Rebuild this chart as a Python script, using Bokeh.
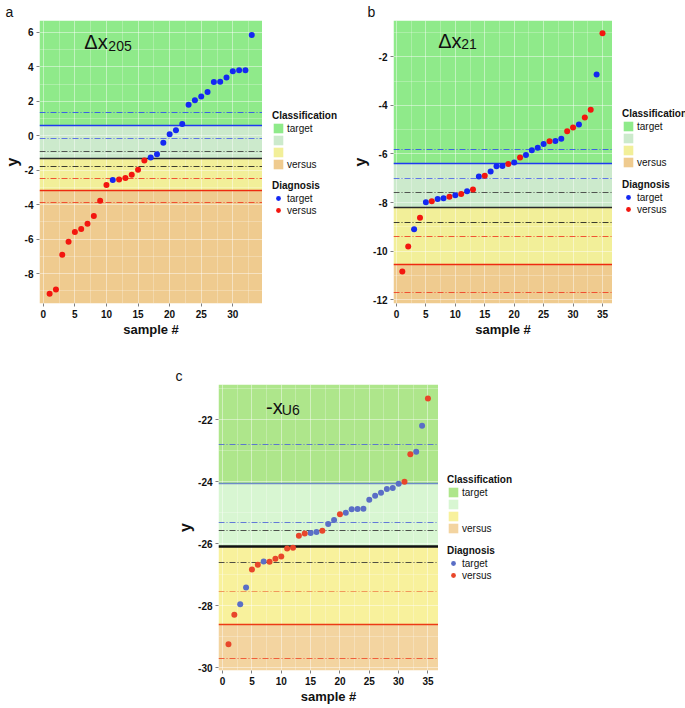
import numpy as np
from bokeh.plotting import figure
from bokeh.models import Legend, LegendItem, Label, Range1d, FixedTicker, Spacer
from bokeh.layouts import row, column
from bokeh.embed import file_html
from bokeh.resources import INLINE

FONT = "Liberation Sans"

# ---------------- data ----------------
# panel a : delta x_205
a_y = [-9.17, -8.92, -6.90, -6.15, -5.58, -5.41, -5.10, -4.66, -3.77, -2.85,
       -2.56, -2.54, -2.45, -2.26, -1.97, -1.43, -1.26, -1.07, -0.41, 0.09,
       0.32, 0.68, 1.80, 2.06, 2.28, 2.54, 3.12, 3.14, 3.39, 3.75,
       3.81, 3.81, 5.85]
a_diag = ["versus", "versus", "versus", "versus", "versus", "versus", "versus", "versus", "versus", "versus",
          "target", "versus", "versus", "versus", "versus", "versus", "target", "target", "target", "target",
          "target", "target", "target", "target", "target", "target", "target", "target", "target", "target",
          "target", "target", "target"]
a_solid = [0.59, -1.33, -3.18]
a_dash = [1.37, -0.18, -0.89, -1.80, -2.49, -3.87]
a_xlim = [-0.6, 34.7]
a_ylim = [-9.73, 6.69]
a_xticks = [0, 5, 10, 15, 20, 25, 30]
a_yticks = [-8, -6, -4, -2, 0, 2, 4, 6]

# panel b : delta x_21
b_y = [-10.84, -9.81, -9.10, -8.63, -7.99, -7.95, -7.85, -7.82, -7.76, -7.70,
       -7.65, -7.54, -7.46, -6.93, -6.90, -6.72, -6.50, -6.49, -6.41, -6.35,
       -6.14, -6.04, -5.85, -5.74, -5.59, -5.48, -5.46, -5.37, -5.06, -4.91,
       -4.79, -4.50, -4.18, -2.73, -1.03]
b_diag = ["versus", "versus", "target", "versus", "target", "versus", "target", "target", "versus", "target",
          "versus", "target", "versus", "target", "versus", "target", "target", "target", "versus", "target",
          "versus", "target", "target", "target", "target", "versus", "target", "target", "versus", "versus",
          "target", "versus", "versus", "target", "versus"]
b_solid = [-6.41, -8.22, -10.54]
b_dash = [-5.80, -7.02, -7.58, -8.83, -9.41, -11.69]
b_xlim = [-0.5, 36.7]
b_ylim = [-12.16, -0.50]
b_xticks = [0, 5, 10, 15, 20, 25, 30, 35]
b_yticks = [-12, -10, -8, -6, -4, -2]

# panel c : -x_U6
c_y = [-29.24, -28.29, -27.95, -27.41, -26.83, -26.68, -26.57, -26.58, -26.48, -26.41,
       -26.15, -26.13, -25.74, -25.67, -25.65, -25.62, -25.58, -25.36, -25.23, -25.05,
       -25.00, -24.89, -24.88, -24.87, -24.58, -24.45, -24.35, -24.23, -24.20, -24.06,
       -24.00, -23.11, -23.03, -22.19, -21.31]
c_diag = ["versus", "versus", "target", "target", "versus", "versus", "target", "versus", "versus", "versus",
          "versus", "versus", "versus", "versus", "target", "target", "versus", "target", "target", "versus",
          "target", "target", "target", "target", "target", "target", "target", "target", "target", "target",
          "versus", "versus", "target", "target", "versus"]
c_solid = [-24.05, -26.09, -28.62]
c_dash = [-22.80, -25.31, -25.58, -26.60, -27.55, -29.69]
c_xlim = [-0.7, 36.8]
c_ylim = [-30.09, -20.86]
c_xticks = [0, 5, 10, 15, 20, 25, 30, 35]
c_yticks = [-30, -28, -26, -24, -22]

classes = ["target", "", "", "versus"]
diagnoses = ["target", "versus"]

STYLE_AB = dict(
    bands=["#8FEA8A", "#CCEACC", "#F2EF99", "#EFCB8F"],
    pts={"target": "#1428F2", "versus": "#F3160F"},
    solid=["#1F3BF0", "#2A2A2A", "#EE2A10"],
    solid_w=[1.6, 1.6, 1.6],
    dash=["#2D4BF0", "#4A62E8", "#3A3A3A", "#1A1A1A", "#F03A20", "#F03A20"],
)
STYLE_C = dict(
    bands=["#AEE68B", "#D8F6D2", "#F8F19C", "#F3D4A0"],
    pts={"target": "#5A6EC6", "versus": "#E8462A"},
    solid=["#6C8BC8", "#111111", "#EC3A14"],
    solid_w=[1.6, 2.6, 1.6],
    dash=["#4E63D8", "#4E63D8", "#333333", "#333333", "#F08A50", "#EE4A28"],
)


def make_panel(tag, ys, diag, solid, dash, xlim, ylim, xt, yt, st,
               sym, sub, sym_xy, sub_xy, geom):
    ml, mt, fw, fh, mb = geom
    p = figure(width=ml + fw, height=mt + fh + mb,
               x_range=Range1d(*xlim), y_range=Range1d(*ylim),
               output_backend="svg", toolbar_location=None,
               min_border_left=ml, min_border_top=mt,
               min_border_right=0, min_border_bottom=mb,
               outline_line_color=None, background_fill_color="white",
               title=tag[0])
    p.title.text_font = FONT
    p.title.text_font_size = "14px"
    p.title.text_font_style = "normal"
    p.title.text_color = "#111111"
    p.title.align = "left"
    p.title.offset = tag[1]
    p.title.standoff = 2

    # classification bands
    tops = [ylim[1], solid[0], solid[1], solid[2]]
    bots = [solid[0], solid[1], solid[2], ylim[0]]
    for i in range(4):
        p.quad(left=[xlim[0]], right=[xlim[1]], bottom=[bots[i]], top=[tops[i]],
               fill_color=st["bands"][i], line_color=None, level="image")

    # grid
    xminor = [t + 2.5 for t in xt]
    ystep = yt[1] - yt[0]
    yminor = [t + ystep / 2 for t in yt] + [yt[0] - ystep / 2]
    p.xaxis.ticker = FixedTicker(ticks=xt, minor_ticks=xminor)
    p.yaxis.ticker = FixedTicker(ticks=yt, minor_ticks=yminor)
    p.xaxis.major_label_overrides = {t: str(t) for t in xt}
    p.yaxis.major_label_overrides = {t: str(t) for t in yt}
    for g in (p.xgrid, p.ygrid):
        g.grid_line_color = "white"
        g.grid_line_alpha = 0.45
        g.grid_line_width = 1
        g.minor_grid_line_color = "white"
        g.minor_grid_line_alpha = 0.25

    # threshold lines
    p.hspan(y=dash, line_color=st["dash"], line_width=1.2, line_alpha=0.85,
            line_dash="6 2 1 2")
    for i in range(3):
        p.hspan(y=[solid[i]], line_color=st["solid"][i], line_width=st["solid_w"][i])

    # samples
    xs = np.arange(1, len(ys) + 1)
    yv = np.array(ys)
    dv = np.array(diag)
    for d in diagnoses:
        m = dv == d
        p.scatter(xs[m], yv[m], size=6, fill_color=st["pts"][d], line_color=None)

    # axes
    for ax in (p.xaxis[0], p.yaxis[0]):
        ax.axis_line_color = None
        ax.major_tick_line_color = "#7F7F7F"
        ax.major_tick_out = 3
        ax.major_tick_in = 0
        ax.minor_tick_line_color = None
        ax.major_label_text_font = FONT
        ax.major_label_text_font_style = "bold"
        ax.major_label_text_font_size = "10px"
        ax.major_label_text_color = "#111111"
        ax.major_label_standoff = 2
        ax.axis_label_text_font = FONT
        ax.axis_label_text_font_style = "bold"
        ax.axis_label_text_color = "#111111"
    p.xaxis.axis_label = "sample #"
    p.xaxis.axis_label_text_font_size = "13px"
    p.xaxis.axis_label_standoff = 1
    p.yaxis.axis_label = "y"
    p.yaxis.axis_label_text_font_size = "16px"
    p.yaxis.axis_label_standoff = 1

    # panel annotation texts
    p.add_layout(Label(x=sym_xy[0], y=sym_xy[1], text=sym, text_font=FONT,
                       text_font_size="20px", text_color="#111111",
                       text_baseline="alphabetic"))
    p.add_layout(Label(x=sub_xy[0], y=sub_xy[1], text=sub, text_font=FONT,
                       text_font_size="14px", text_color="#111111",
                       text_baseline="alphabetic"))
    return p


def make_legend(width, height, st, pos):
    # a figure that only carries the two legends (its frame is aligned with
    # the neighbouring panel's frame by the row layout)
    f = figure(width=width, height=height, x_range=Range1d(0, 1), y_range=Range1d(0, 1),
               x_axis_type=None, y_axis_type=None, toolbar_location=None,
               output_backend="svg", min_border=0, outline_line_color=None)
    nan = [np.nan]
    band_r = [f.quad(left=nan, right=nan, bottom=nan, top=nan, fill_color=st["bands"][i],
                     line_color=None) for i in range(4)]
    pt_r = {d: f.scatter(x=nan, y=nan, size=6, fill_color=st["pts"][d], line_color=None)
            for d in diagnoses}
    common = dict(title_text_font=FONT, title_text_font_style="bold",
                  title_text_font_size="10px", title_standoff=1,
                  label_text_font=FONT, label_text_font_size="10px",
                  label_text_color="#111111", title_text_color="#111111",
                  glyph_width=12, glyph_height=12, label_height=12,
                  label_standoff=3, spacing=0, padding=0, margin=0,
                  border_line_color=None, background_fill_alpha=0)
    leg1 = Legend(title="Classification",
                  items=[LegendItem(label=(c if c else " "), renderers=[band_r[i]])
                         for i, c in enumerate(classes)],
                  location=(pos[0], pos[1]), **common)
    leg2 = Legend(title="Diagnosis",
                  items=[LegendItem(label=d, renderers=[pt_r[d]]) for d in diagnoses],
                  location=(pos[0], pos[2]), **common)
    f.add_layout(leg1)
    f.add_layout(leg2)
    return f


pa = make_panel(("a", -34), a_y, a_diag, a_solid, a_dash, a_xlim, a_ylim,
                a_xticks, a_yticks, STYLE_AB, "\u0394x", "205",
                (6.5, 5.42), (10.3, 5.19), (36, 18, 226, 285, 49))
la = make_legend(78, 352, STYLE_AB, (10, 133, 87))
pb = make_panel(("b", -26), b_y, b_diag, b_solid, b_dash, b_xlim, b_ylim,
                b_xticks, b_yticks, STYLE_AB, "\u0394x", "21",
                (7.1, -1.35), (11.0, -1.46), (53, 19, 219, 286, 47))
lb = make_legend(73, 352, STYLE_AB, (10, 135, 88))
pc = make_panel(("c", -43), c_y, c_diag, c_solid, c_dash, c_xlim, c_ylim,
                c_xticks, c_yticks, STYLE_C, "-x", "U6",
                (7.4, -21.58), (10.1, -21.68), (48, 32, 220, 288, 34))
lc = make_legend(92, 354, STYLE_C, (9, 136, 89))

layout = column(row(pa, la, pb, lb), row(Spacer(width=170, height=354), pc, lc))
open("out.html", "w").write(file_html(layout, INLINE))
